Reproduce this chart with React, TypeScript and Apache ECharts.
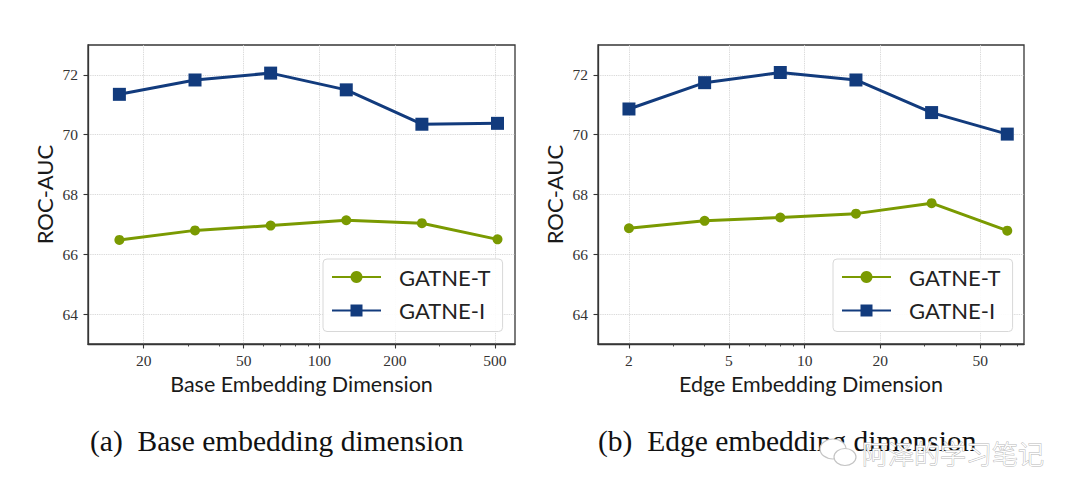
import React, { useEffect, useRef } from "react";
import * as echarts from "echarts";

const baseDims = [16, 32, 64, 128, 256, 512];
const baseT = [66.48, 66.8, 66.96, 67.14, 67.04, 66.5];
const baseI = [71.35, 71.83, 72.06, 71.5, 70.35, 70.38];
const edgeDims = [2, 4, 8, 16, 32, 64];
const edgeT = [66.87, 67.12, 67.23, 67.36, 67.71, 66.79];
const edgeI = [70.86, 71.74, 72.08, 71.83, 70.74, 70.02];
const yTicks = [64, 66, 68, 70, 72];
const baseXTicks = [20, 50, 100, 200, 500];
const baseXMinor = [30, 40, 60, 70, 80, 90, 300, 400];
const edgeXTicks = [2, 5, 10, 20, 50];
const edgeXMinor = [3, 4, 6, 7, 8, 9, 30, 40, 60, 70];
const seriesNames = ["GATNE-T", "GATNE-I"];
const captions = ["(a)  Base embedding dimension", "(b)  Edge embedding dimension"];
const xNames = ["Base Embedding Dimension", "Edge Embedding Dimension"];
const yName = "ROC-AUC";
const watermark = "阿泽的学习笔记";

const GREEN = "#7a9a01";
const BLUE = "#123b7d";
const FRAME = "#363636";
const GRIDC = "#cfcfcf";
const SANS = "Lato, 'DejaVu Sans', sans-serif";
const SERIF = "'Liberation Serif', 'DejaVu Serif', serif";

const pair = (xs: number[], ys: number[]) => xs.map((x, i) => [x, ys[i]]);

export default function App() {
  const ref = useRef<HTMLDivElement>(null);
  useEffect(() => {
    const chart = echarts.init(ref.current!, null, { renderer: "svg" });
    const grids = [
      { left: 88, top: 45, width: 427, height: 299 },
      { left: 598, top: 45, width: 426, height: 299 },
    ];
    const ranges = [
      [12, 601],
      [1.506, 74.6],
    ];
    const majors = [baseXTicks, edgeXTicks];
    const minors = [baseXMinor, edgeXMinor];
    const xAxes: any[] = [];
    [0, 1].forEach((g) => {
      xAxes.push({
        type: "log",
        logBase: 10,
        gridIndex: g,
        min: ranges[g][0],
        max: ranges[g][1],
        name: xNames[g],
        nameLocation: "middle",
        nameGap: 24,
        nameTextStyle: { fontFamily: SANS, fontSize: 21.5, color: "#1a1a1a" },
        axisLine: { show: true, lineStyle: { color: FRAME, width: 1.3 } },
        axisTick: { show: true, length: 4.5, customValues: majors[g], lineStyle: { color: FRAME, width: 1.1 } },
        axisLabel: {
          customValues: majors[g],
          margin: 8,
          fontFamily: SERIF,
          fontSize: 15.5,
          color: "#333",
          formatter: (v: number) => String(Math.round(v)),
        },
        splitLine: { show: true, lineStyle: { color: GRIDC, type: "dotted", width: 0.9 } },
      });
    });
    [0, 1].forEach((g) => {
      xAxes.push({
        type: "log",
        logBase: 10,
        gridIndex: g,
        min: ranges[g][0],
        max: ranges[g][1],
        position: "bottom",
        axisLine: { show: false },
        axisTick: { show: true, length: 2.5, customValues: minors[g], lineStyle: { color: FRAME, width: 0.9 } },
        axisLabel: { show: false },
        splitLine: { show: false },
      });
    });
    const yAxes = [0, 1].map((g) => ({
      type: "value",
      gridIndex: g,
      min: 63,
      max: 73,
      name: yName,
      nameLocation: "middle",
      nameGap: 33,
      nameTextStyle: { fontFamily: SANS, fontSize: 22, color: "#1a1a1a" },
      axisLine: { show: true, lineStyle: { color: FRAME, width: 1.3 } },
      axisTick: { show: true, length: 4.5, customValues: yTicks, lineStyle: { color: FRAME, width: 1.1 } },
      axisLabel: { customValues: yTicks, margin: 10, fontFamily: SERIF, fontSize: 15.5, color: "#333" },
      splitLine: { show: true, lineStyle: { color: GRIDC, type: "dotted", width: 0.9 } },
    }));
    const mk = (name: string, g: number, data: number[][], color: string, sym: string, size: number) => ({
      type: "line",
      name,
      xAxisIndex: g,
      yAxisIndex: g,
      data,
      symbol: sym,
      symbolSize: size,
      showSymbol: true,
      lineStyle: { color, width: 3 },
      itemStyle: { color },
      z: 3,
    });
    const series = [
      mk(seriesNames[0], 0, pair(baseDims, baseT), GREEN, "circle", 10),
      mk(seriesNames[1], 0, pair(baseDims, baseI), BLUE, "rect", 13),
      mk(seriesNames[0], 1, pair(edgeDims, edgeT), GREEN, "circle", 10),
      mk(seriesNames[1], 1, pair(edgeDims, edgeI), BLUE, "rect", 13),
    ];
    const legendLefts = [323, 833];
    const legends = legendLefts.map((l) => ({
      left: l,
      top: 259,
      orient: "vertical",
      data: seriesNames,
      itemWidth: 49,
      itemHeight: 15,
      itemGap: 9.5,
      padding: [6, 12, 9, 8],
      backgroundColor: "rgba(255,255,255,0.9)",
      borderColor: "#d8d8d8",
      borderWidth: 1,
      borderRadius: 4,
      selectedMode: false,
      textStyle: { fontFamily: SANS, fontSize: 22, color: "#222", lineHeight: 24, padding: [0, 0, 0, 13] },
    }));
    const graphics: any[] = [
      {
        type: "text",
        x: 90,
        y: 441,
        style: { text: captions[0], fontFamily: SERIF, fontSize: 29.5, fill: "#111", verticalAlign: "middle" },
      },
      {
        type: "text",
        x: 598,
        y: 441,
        style: { text: captions[1], fontFamily: SERIF, fontSize: 29.5, fill: "#111", verticalAlign: "middle" },
      },
      {
        type: "ellipse",
        shape: { cx: 833, cy: 449, rx: 13, ry: 10 },
        style: { fill: "#fff", stroke: "#c4c4c4", lineWidth: 1.2 },
        z: 10,
      },
      {
        type: "ellipse",
        shape: { cx: 845, cy: 457, rx: 11, ry: 8.5 },
        style: { fill: "#fff", stroke: "#c4c4c4", lineWidth: 1.2 },
        z: 11,
      },
      {
        type: "text",
        x: 862,
        y: 452,
        z: 12,
        style: {
          text: watermark,
          fontFamily: "'Noto Sans CJK SC', sans-serif",
          fontSize: 26,
          fontWeight: 300,
          fill: "#ffffff",
          stroke: "#b8b8b8",
          lineWidth: 1,
          verticalAlign: "middle",
        },
      },
    ];
    chart.setOption({
      animation: false,
      backgroundColor: "#fff",
      grid: grids.map((g) => ({ ...g, show: true, borderColor: FRAME, borderWidth: 1.3, backgroundColor: "transparent" })),
      xAxis: xAxes,
      yAxis: yAxes,
      legend: legends,
      series,
      graphic: graphics,
    });
    return () => chart.dispose();
  }, []);
  return <div ref={ref} style={{ position: "fixed", left: 0, top: 0, width: 1080, height: 499 }} />;
}
